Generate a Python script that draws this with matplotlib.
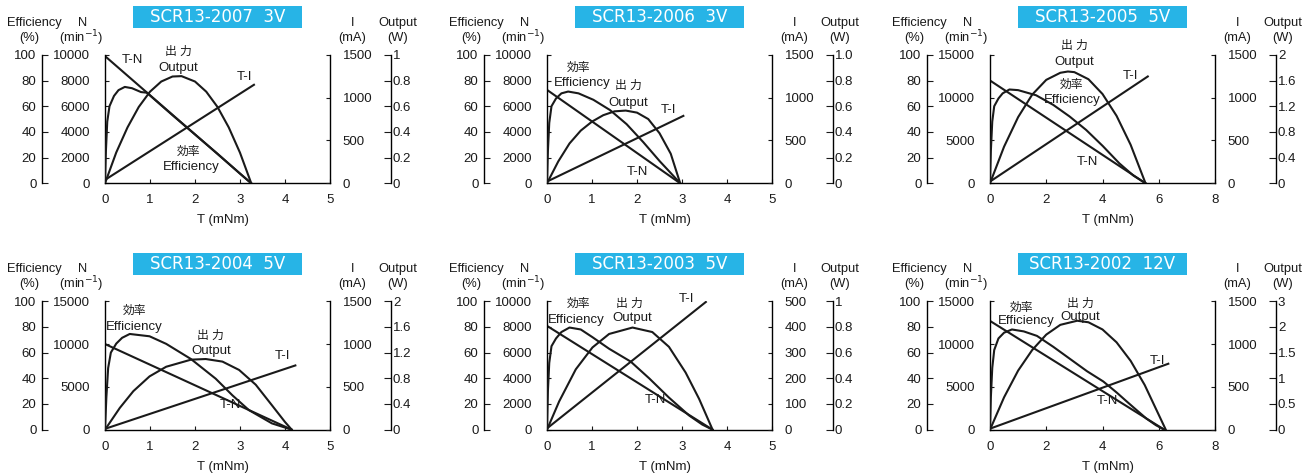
import matplotlib
matplotlib.use("Agg")
import matplotlib.pyplot as plt
from matplotlib.patches import Rectangle

plt.rcParams['font.family'] = ['Liberation Sans', 'Noto Sans CJK JP']
plt.rcParams['axes.linewidth'] = 1.0

# ---- data ----
# SCR13-2007 3V
tn_2007 = [0, 3.25]
n_2007 = [9900, 0]
ti_2007 = [0, 3.31]
i_2007 = [40, 1150]
te_2007 = [0, 0.02, 0.05, 0.1, 0.2, 0.3, 0.44, 0.6, 0.8, 0.93, 1.5, 2.0, 2.5, 3.0, 3.25]
eff_2007 = [0, 25, 48, 60, 68, 72.5, 75, 74, 71, 70.5, 53, 38, 23, 7.5, 0]
to_2007 = [0, 0.25, 0.5, 0.75, 1.0, 1.25, 1.5, 1.7, 2.0, 2.25, 2.5, 2.75, 3.0, 3.25]
out_2007 = [0, 0.24, 0.435, 0.594, 0.713, 0.792, 0.831, 0.834, 0.792, 0.713, 0.594, 0.435, 0.238, 0]

# SCR13-2006 3V
tn_2006 = [0, 2.96]
n_2006 = [7270, 0]
ti_2006 = [0, 3.03]
i_2006 = [20, 787]
te_2006 = [0, 0.02, 0.05, 0.1, 0.2, 0.32, 0.47, 0.7, 1.03, 1.4, 1.77, 2.14, 2.51, 2.75, 2.96]
eff_2006 = [0, 25, 47, 60, 66, 70, 71.4, 70, 65, 57, 46, 32, 17, 8, 0]
to_2006 = [0, 0.25, 0.5, 0.75, 1.0, 1.25, 1.5, 1.75, 2.0, 2.25, 2.5, 2.75, 2.96]
out_2006 = [0, 0.17, 0.31, 0.41, 0.48, 0.53, 0.56, 0.566, 0.55, 0.50, 0.39, 0.23, 0]

# SCR13-2005 5V
tn_2005 = [0, 5.53]
n_2005 = [12000, 0]
ti_2005 = [0, 5.61]
i_2005 = [20, 1247]
te_2005 = [0, 0.03, 0.08, 0.15, 0.3, 0.45, 0.69, 1.0, 1.64, 2.25, 2.83, 3.42, 4.01, 4.6, 5.1, 5.53]
eff_2005 = [0, 25, 48, 60, 66, 70, 73, 72.5, 68.5, 61, 52, 41.5, 29, 15.5, 6, 0]
to_2005 = [0, 0.5, 1.0, 1.5, 2.0, 2.5, 2.77, 3.0, 3.5, 4.0, 4.5, 5.0, 5.53]
out_2005 = [0, 0.57, 1.03, 1.38, 1.61, 1.72, 1.74, 1.73, 1.62, 1.39, 1.05, 0.6, 0]

# SCR13-2004 5V
tn_2004 = [0, 4.15]
n_2004 = [10000, 0]
ti_2004 = [0, 4.23]
i_2004 = [10, 750]
te_2004 = [0, 0.03, 0.07, 0.13, 0.25, 0.38, 0.55, 0.99, 1.36, 1.91, 2.46, 2.83, 3.2, 3.71, 4.15]
eff_2004 = [0, 25, 48, 60, 67, 71.5, 74.5, 72.7, 66.8, 55, 39.7, 26.8, 15.2, 4.9, 0]
to_2004 = [0, 0.33, 0.63, 0.99, 1.36, 1.91, 2.24, 2.61, 2.98, 3.35, 3.71, 4.0, 4.15]
out_2004 = [0, 0.34, 0.60, 0.83, 0.98, 1.09, 1.10, 1.06, 0.93, 0.70, 0.38, 0.12, 0]

# SCR13-2003 5V
tn_2003 = [0, 3.68]
n_2003 = [8080, 0]
ti_2003 = [0, 3.53]
i_2003 = [5, 497]
te_2003 = [0, 0.02, 0.05, 0.1, 0.2, 0.32, 0.5, 0.75, 1.01, 1.38, 1.86, 2.27, 2.71, 3.16, 3.45, 3.68]
eff_2003 = [0, 30, 52, 65, 71, 76, 79.5, 78, 72, 63, 53, 40, 25, 11, 4, 0]
to_2003 = [0, 0.27, 0.64, 1.01, 1.38, 1.9, 2.34, 2.71, 3.08, 3.38, 3.68]
out_2003 = [0, 0.22, 0.47, 0.64, 0.745, 0.795, 0.76, 0.645, 0.445, 0.24, 0]

# SCR13-2002 12V
tn_2002 = [0, 6.2]
n_2002 = [12700, 0]
ti_2002 = [0, 6.34]
i_2002 = [12, 770]
te_2002 = [0, 0.03, 0.08, 0.15, 0.3, 0.5, 0.78, 1.2, 1.67, 2.25, 2.85, 3.45, 4.03, 4.5, 4.86, 5.2, 5.57, 5.9, 6.2]
eff_2002 = [0, 25, 48, 62, 71, 75.5, 78, 76.5, 73, 64.5, 55, 45.5, 37.5, 29, 22, 15.5, 8.5, 3.5, 0]
to_2002 = [0, 0.5, 1.0, 1.5, 2.0, 2.5, 3.1, 3.5, 4.0, 4.5, 5.0, 5.5, 6.0, 6.25]
out_2002 = [0, 0.63, 1.15, 1.55, 1.85, 2.04, 2.12, 2.09, 1.95, 1.70, 1.34, 0.87, 0.29, 0]

titles = ["SCR13-2007  3V", "SCR13-2006  3V", "SCR13-2005  5V",
          "SCR13-2004  5V", "SCR13-2003  5V", "SCR13-2002  12V"]

x_ticks_5 = [0, 1, 2, 3, 4, 5]
x_ticks_8 = [0, 2, 4, 6, 8]
eff_ticks = [0, 20, 40, 60, 80, 100]
n_ticks_10k = [0, 2000, 4000, 6000, 8000, 10000]
n_ticks_15k = [0, 5000, 10000, 15000]
i_ticks_1500 = [0, 500, 1000, 1500]
i_ticks_500 = [0, 100, 200, 300, 400, 500]
out_ticks_1 = [0, 0.2, 0.4, 0.6, 0.8, 1.0]
out_ticks_2 = [0, 0.4, 0.8, 1.2, 1.6, 2.0]
out_ticks_25 = [0, 0.5, 1.0, 1.5, 2.0, 2.5]
out_labels_2007 = ["0", "0.2", "0.4", "0.6", "0.8", "1"]
out_labels_2006 = ["0", "0.2", "0.4", "0.6", "0.8", "1.0"]
out_labels_2005 = ["0", "0.4", "0.8", "1.2", "1.6", "2"]
out_labels_2002 = ["0", "0.5", "1", "1.5", "2", "3"]

panels = [
    dict(title=titles[0], tn=tn_2007, n=n_2007, ti=ti_2007, i=i_2007, te=te_2007, eff=eff_2007,
         to=to_2007, out=out_2007, xt=x_ticks_5, nt=n_ticks_10k, it=i_ticks_1500,
         ot=out_ticks_1, ol=out_labels_2007),
    dict(title=titles[1], tn=tn_2006, n=n_2006, ti=ti_2006, i=i_2006, te=te_2006, eff=eff_2006,
         to=to_2006, out=out_2006, xt=x_ticks_5, nt=n_ticks_10k, it=i_ticks_1500,
         ot=out_ticks_1, ol=out_labels_2006),
    dict(title=titles[2], tn=tn_2005, n=n_2005, ti=ti_2005, i=i_2005, te=te_2005, eff=eff_2005,
         to=to_2005, out=out_2005, xt=x_ticks_8, nt=n_ticks_15k, it=i_ticks_1500,
         ot=out_ticks_2, ol=out_labels_2005),
    dict(title=titles[3], tn=tn_2004, n=n_2004, ti=ti_2004, i=i_2004, te=te_2004, eff=eff_2004,
         to=to_2004, out=out_2004, xt=x_ticks_5, nt=n_ticks_15k, it=i_ticks_1500,
         ot=out_ticks_2, ol=out_labels_2005),
    dict(title=titles[4], tn=tn_2003, n=n_2003, ti=ti_2003, i=i_2003, te=te_2003, eff=eff_2003,
         to=to_2003, out=out_2003, xt=x_ticks_5, nt=n_ticks_10k, it=i_ticks_500,
         ot=out_ticks_1, ol=out_labels_2007),
    dict(title=titles[5], tn=tn_2002, n=n_2002, ti=ti_2002, i=i_2002, te=te_2002, eff=eff_2002,
         to=to_2002, out=out_2002, xt=x_ticks_8, nt=n_ticks_15k, it=i_ticks_1500,
         ot=out_ticks_25, ol=out_labels_2002),
]

# curve labels, axes fraction
curve_labels = [
    [("T-N", 0.12, 0.96), ("出 力", 0.325, 1.02), ("Output", 0.325, 0.90), ("T-I", 0.62, 0.83),
     ("効率", 0.37, 0.245), ("Efficiency", 0.385, 0.125)],
    [("効率", 0.14, 0.90), ("Efficiency", 0.155, 0.78), ("出 力", 0.36, 0.76), ("Output", 0.36, 0.625),
     ("T-I", 0.54, 0.57), ("T-N", 0.40, 0.09)],
    [("出 力", 0.373, 1.067), ("Output", 0.373, 0.945), ("効率", 0.36, 0.768), ("Efficiency", 0.366, 0.65),
     ("T-I", 0.625, 0.833), ("T-N", 0.432, 0.169)],
    [("効率", 0.132, 0.923), ("Efficiency", 0.132, 0.80), ("出 力", 0.47, 0.73), ("Output", 0.47, 0.614),
     ("T-I", 0.787, 0.575), ("T-N", 0.559, 0.189)],
    [("効率", 0.138, 0.98), ("Efficiency", 0.13, 0.855), ("出 力", 0.367, 0.98), ("Output", 0.379, 0.867),
     ("T-I", 0.619, 1.016), ("T-N", 0.482, 0.228)],
    [("出 力", 0.40, 0.977), ("Output", 0.40, 0.874), ("効率", 0.14, 0.95), ("Efficiency", 0.163, 0.845),
     ("T-I", 0.746, 0.536), ("T-N", 0.524, 0.227)],
]

W, H = 1312, 475
col_left = [105, 547, 990]
row_base = [183.3, 429.7]
pw, ph = 225, 128.5
ink = '#1a1a1a'
lw = 1.5
fs_tick = 9.5
fs_head = 9.3

fig = plt.figure(figsize=(13.12, 4.75), dpi=100)

for k, p in enumerate(panels):
    row, col = divmod(k, 3)
    ax = fig.add_axes([col_left[col] / W, 1 - row_base[row] / H, pw / W, ph / H])
    xmax = p['xt'][-1]
    ax.set_xlim(0, xmax)
    ax.set_ylim(0, p['nt'][-1])
    ax.set_xticks(p['xt'])
    ax.set_yticks(p['nt'])
    for s in ['top', 'right']:
        ax.spines[s].set_visible(False)
    ax.tick_params(axis='x', direction='in', length=3, pad=8, labelsize=fs_tick, colors=ink)
    ax.tick_params(axis='y', direction='in', length=3, pad=11, labelsize=fs_tick, colors=ink)
    ax.plot(p['tn'], p['n'], color=ink, lw=lw)

    # efficiency axis, far left
    ax_e = ax.twinx()
    ax_e.set_ylim(0, 100)
    ax_e.set_yticks(eff_ticks)
    for s in ['top', 'right', 'bottom']:
        ax_e.spines[s].set_visible(False)
    ax_e.spines['left'].set_visible(True)
    ax_e.spines['left'].set_position(('axes', -0.28))
    ax_e.yaxis.set_ticks_position('left')
    ax_e.tick_params(axis='y', direction='in', length=4.5, pad=4, labelsize=fs_tick, colors=ink)
    ax_e.plot(p['te'], p['eff'], color=ink, lw=lw)

    # current axis, right spine
    ax_i = ax.twinx()
    ax_i.set_ylim(0, p['it'][-1])
    ax_i.set_yticks(p['it'])
    for s in ['top', 'left', 'bottom']:
        ax_i.spines[s].set_visible(False)
    ax_i.tick_params(axis='y', direction='in', length=3, pad=9, labelsize=fs_tick, colors=ink)
    ax_i.plot(p['ti'], p['i'], color=ink, lw=lw)

    # output axis, far right
    ax_p = ax.twinx()
    ax_p.set_ylim(0, p['ot'][-1])
    ax_p.set_yticks(p['ot'])
    ax_p.set_yticklabels(p['ol'])
    for s in ['top', 'left', 'bottom']:
        ax_p.spines[s].set_visible(False)
    ax_p.spines['right'].set_position(('axes', 1.27))
    ax_p.tick_params(axis='y', direction='in', length=5, pad=1.5, labelsize=fs_tick, colors=ink)
    ax_p.plot(p['to'], p['out'], color=ink, lw=lw)

    # header texts
    tr = ax.transAxes
    ax.text(-0.315, 1.25, "Efficiency", transform=tr, ha='center', va='center', fontsize=fs_head, color=ink)
    ax.text(-0.335, 1.133, "(%)", transform=tr, ha='center', va='center', fontsize=fs_head, color=ink)
    ax.text(-0.10, 1.25, "N", transform=tr, ha='center', va='center', fontsize=fs_head, color=ink)
    ax.text(-0.105, 1.133, "(min$^{-1}$)", transform=tr, ha='center', va='center', fontsize=fs_head, color=ink)
    ax.text(1.10, 1.25, "I", transform=tr, ha='center', va='center', fontsize=fs_head, color=ink)
    ax.text(1.10, 1.133, "(mA)", transform=tr, ha='center', va='center', fontsize=fs_head, color=ink)
    ax.text(1.30, 1.25, "Output", transform=tr, ha='center', va='center', fontsize=fs_head, color=ink)
    ax.text(1.30, 1.133, "(W)", transform=tr, ha='center', va='center', fontsize=fs_head, color=ink)
    ax.text(0.525, -0.287, "T (mNm)", transform=tr, ha='center', va='center', fontsize=fs_tick, color=ink)

    # title box
    ax.add_patch(Rectangle((0.125, 1.205), 0.75, 0.172, transform=tr, clip_on=False,
                           facecolor='#27b4e6', edgecolor='none'))
    ax.text(0.5, 1.291, p['title'], transform=tr, ha='center', va='center', fontsize=12,
            color='white', family='DejaVu Sans')

    for txt, x, y in curve_labels[k]:
        size = 8.5 if txt in ("効率", "出 力") else 9.5
        ax.text(x, y, txt, transform=tr, ha='center', va='center', fontsize=size, color=ink)

fig.savefig("out.png", dpi=100, facecolor='white')
